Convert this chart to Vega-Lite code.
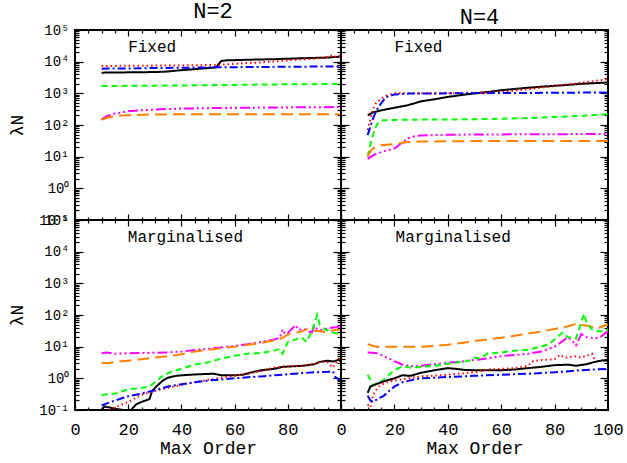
{
"$schema": "https://vega.github.io/schema/vega-lite/v6.json",
"padding": {"left": 7, "top": -2, "right": 2, "bottom": 0},
"datasets": {
"L": [
{"p":"F2","s":"k","x":10,"y":4500},{"p":"F2","s":"k","x":20,"y":4600},{"p":"F2","s":"k","x":30,"y":4700},{"p":"F2","s":"k","x":35,"y":4900},{"p":"F2","s":"k","x":40,"y":5400},{"p":"F2","s":"k","x":45,"y":5800},{"p":"F2","s":"k","x":50,"y":6300},{"p":"F2","s":"k","x":53,"y":6600},{"p":"F2","s":"k","x":55,"y":10500},{"p":"F2","s":"k","x":57,"y":11000},{"p":"F2","s":"k","x":65,"y":11500},{"p":"F2","s":"k","x":75,"y":12000},{"p":"F2","s":"k","x":85,"y":12800},{"p":"F2","s":"k","x":95,"y":13500},{"p":"F2","s":"k","x":100,"y":14500},
{"p":"F2","s":"r","x":10,"y":7300},{"p":"F2","s":"r","x":20,"y":7400},{"p":"F2","s":"r","x":30,"y":7500},{"p":"F2","s":"r","x":40,"y":7600},{"p":"F2","s":"r","x":50,"y":7800},{"p":"F2","s":"r","x":55,"y":8000},{"p":"F2","s":"r","x":60,"y":8600},{"p":"F2","s":"r","x":70,"y":9500},{"p":"F2","s":"r","x":80,"y":11000},{"p":"F2","s":"r","x":90,"y":12500},{"p":"F2","s":"r","x":95,"y":14000},{"p":"F2","s":"r","x":97,"y":16000},{"p":"F2","s":"r","x":98,"y":14000},{"p":"F2","s":"r","x":100,"y":15500},
{"p":"F2","s":"b","x":10,"y":6000},{"p":"F2","s":"b","x":20,"y":6100},{"p":"F2","s":"b","x":30,"y":6300},{"p":"F2","s":"b","x":40,"y":6400},{"p":"F2","s":"b","x":50,"y":6600},{"p":"F2","s":"b","x":60,"y":6700},{"p":"F2","s":"b","x":70,"y":6800},{"p":"F2","s":"b","x":80,"y":6900},{"p":"F2","s":"b","x":90,"y":7000},{"p":"F2","s":"b","x":100,"y":7100},
{"p":"F2","s":"g","x":10,"y":1700},{"p":"F2","s":"g","x":30,"y":1750},{"p":"F2","s":"g","x":50,"y":1800},{"p":"F2","s":"g","x":70,"y":1900},{"p":"F2","s":"g","x":90,"y":1950},{"p":"F2","s":"g","x":100,"y":2000},
{"p":"F2","s":"m","x":10,"y":150},{"p":"F2","s":"m","x":12,"y":190},{"p":"F2","s":"m","x":15,"y":230},{"p":"F2","s":"m","x":20,"y":270},{"p":"F2","s":"m","x":25,"y":290},{"p":"F2","s":"m","x":30,"y":310},{"p":"F2","s":"m","x":40,"y":330},{"p":"F2","s":"m","x":50,"y":340},{"p":"F2","s":"m","x":60,"y":350},{"p":"F2","s":"m","x":70,"y":355},{"p":"F2","s":"m","x":80,"y":360},{"p":"F2","s":"m","x":90,"y":365},{"p":"F2","s":"m","x":100,"y":370},
{"p":"F2","s":"o","x":10,"y":145},{"p":"F2","s":"o","x":12,"y":170},{"p":"F2","s":"o","x":15,"y":190},{"p":"F2","s":"o","x":20,"y":205},{"p":"F2","s":"o","x":30,"y":215},{"p":"F2","s":"o","x":50,"y":220},{"p":"F2","s":"o","x":100,"y":220},

{"p":"F4","s":"k","x":10,"y":200},{"p":"F4","s":"k","x":12,"y":250},{"p":"F4","s":"k","x":15,"y":290},{"p":"F4","s":"k","x":20,"y":350},{"p":"F4","s":"k","x":25,"y":420},{"p":"F4","s":"k","x":30,"y":560},{"p":"F4","s":"k","x":35,"y":650},{"p":"F4","s":"k","x":40,"y":770},{"p":"F4","s":"k","x":45,"y":880},{"p":"F4","s":"k","x":50,"y":1000},{"p":"F4","s":"k","x":55,"y":1100},{"p":"F4","s":"k","x":60,"y":1250},{"p":"F4","s":"k","x":65,"y":1380},{"p":"F4","s":"k","x":70,"y":1500},{"p":"F4","s":"k","x":75,"y":1620},{"p":"F4","s":"k","x":80,"y":1730},{"p":"F4","s":"k","x":85,"y":1850},{"p":"F4","s":"k","x":90,"y":2000},{"p":"F4","s":"k","x":95,"y":2100},{"p":"F4","s":"k","x":100,"y":2200},
{"p":"F4","s":"r","x":10,"y":70},{"p":"F4","s":"r","x":11,"y":150},{"p":"F4","s":"r","x":12,"y":320},{"p":"F4","s":"r","x":13,"y":480},{"p":"F4","s":"r","x":15,"y":680},{"p":"F4","s":"r","x":17,"y":850},{"p":"F4","s":"r","x":20,"y":1000},{"p":"F4","s":"r","x":30,"y":1000},{"p":"F4","s":"r","x":40,"y":1000},{"p":"F4","s":"r","x":50,"y":1050},{"p":"F4","s":"r","x":60,"y":1100},{"p":"F4","s":"r","x":70,"y":1350},{"p":"F4","s":"r","x":80,"y":1700},{"p":"F4","s":"r","x":90,"y":2150},{"p":"F4","s":"r","x":100,"y":2800},
{"p":"F4","s":"b","x":10,"y":48},{"p":"F4","s":"b","x":11,"y":90},{"p":"F4","s":"b","x":12,"y":160},{"p":"F4","s":"b","x":13,"y":260},{"p":"F4","s":"b","x":15,"y":480},{"p":"F4","s":"b","x":17,"y":770},{"p":"F4","s":"b","x":20,"y":920},{"p":"F4","s":"b","x":25,"y":980},{"p":"F4","s":"b","x":40,"y":1000},{"p":"F4","s":"b","x":60,"y":1020},{"p":"F4","s":"b","x":80,"y":1040},{"p":"F4","s":"b","x":100,"y":1070},
{"p":"F4","s":"g","x":10,"y":10},{"p":"F4","s":"g","x":11,"y":25},{"p":"F4","s":"g","x":12,"y":50},{"p":"F4","s":"g","x":13,"y":87},{"p":"F4","s":"g","x":14,"y":120},{"p":"F4","s":"g","x":15,"y":140},{"p":"F4","s":"g","x":20,"y":145},{"p":"F4","s":"g","x":30,"y":148},{"p":"F4","s":"g","x":50,"y":152},{"p":"F4","s":"g","x":70,"y":165},{"p":"F4","s":"g","x":90,"y":195},{"p":"F4","s":"g","x":100,"y":220},
{"p":"F4","s":"m","x":10,"y":8.5},{"p":"F4","s":"m","x":12,"y":11},{"p":"F4","s":"m","x":15,"y":14},{"p":"F4","s":"m","x":20,"y":18},{"p":"F4","s":"m","x":23,"y":28},{"p":"F4","s":"m","x":25,"y":38},{"p":"F4","s":"m","x":28,"y":45},{"p":"F4","s":"m","x":30,"y":47},{"p":"F4","s":"m","x":40,"y":49},{"p":"F4","s":"m","x":50,"y":50},{"p":"F4","s":"m","x":70,"y":51},{"p":"F4","s":"m","x":100,"y":52},
{"p":"F4","s":"o","x":10,"y":10},{"p":"F4","s":"o","x":11,"y":15},{"p":"F4","s":"o","x":12,"y":18},{"p":"F4","s":"o","x":15,"y":23},{"p":"F4","s":"o","x":20,"y":25},{"p":"F4","s":"o","x":25,"y":29},{"p":"F4","s":"o","x":30,"y":30},{"p":"F4","s":"o","x":50,"y":31},{"p":"F4","s":"o","x":100,"y":31},

{"p":"M2","s":"m","x":10,"y":6.2},{"p":"M2","s":"m","x":12,"y":6.5},{"p":"M2","s":"m","x":15,"y":6.0},{"p":"M2","s":"m","x":20,"y":6.2},{"p":"M2","s":"m","x":25,"y":6.3},{"p":"M2","s":"m","x":30,"y":6.4},{"p":"M2","s":"m","x":35,"y":6.6},{"p":"M2","s":"m","x":40,"y":7},{"p":"M2","s":"m","x":45,"y":7.8},{"p":"M2","s":"m","x":50,"y":8.5},{"p":"M2","s":"m","x":55,"y":9.5},{"p":"M2","s":"m","x":60,"y":10.5},{"p":"M2","s":"m","x":65,"y":12},{"p":"M2","s":"m","x":70,"y":14},{"p":"M2","s":"m","x":75,"y":17},{"p":"M2","s":"m","x":77,"y":19},{"p":"M2","s":"m","x":78,"y":35},{"p":"M2","s":"m","x":79,"y":25},{"p":"M2","s":"m","x":80,"y":27},{"p":"M2","s":"m","x":82,"y":40},{"p":"M2","s":"m","x":83,"y":48},{"p":"M2","s":"m","x":84,"y":34},{"p":"M2","s":"m","x":86,"y":37},{"p":"M2","s":"m","x":88,"y":30},{"p":"M2","s":"m","x":89,"y":28},{"p":"M2","s":"m","x":90,"y":45},{"p":"M2","s":"m","x":91,"y":36},{"p":"M2","s":"m","x":93,"y":33},{"p":"M2","s":"m","x":95,"y":38},{"p":"M2","s":"m","x":97,"y":40},{"p":"M2","s":"m","x":99,"y":42},{"p":"M2","s":"m","x":100,"y":55},
{"p":"M2","s":"o","x":10,"y":3.1},{"p":"M2","s":"o","x":12,"y":3.0},{"p":"M2","s":"o","x":15,"y":3.3},{"p":"M2","s":"o","x":20,"y":3.6},{"p":"M2","s":"o","x":25,"y":4},{"p":"M2","s":"o","x":30,"y":4.5},{"p":"M2","s":"o","x":35,"y":5},{"p":"M2","s":"o","x":40,"y":5.8},{"p":"M2","s":"o","x":45,"y":7},{"p":"M2","s":"o","x":50,"y":8},{"p":"M2","s":"o","x":55,"y":9},{"p":"M2","s":"o","x":60,"y":10},{"p":"M2","s":"o","x":65,"y":11.5},{"p":"M2","s":"o","x":70,"y":13},{"p":"M2","s":"o","x":75,"y":16},{"p":"M2","s":"o","x":78,"y":19},{"p":"M2","s":"o","x":80,"y":24},{"p":"M2","s":"o","x":85,"y":30},{"p":"M2","s":"o","x":88,"y":38},{"p":"M2","s":"o","x":90,"y":32},{"p":"M2","s":"o","x":93,"y":30},{"p":"M2","s":"o","x":95,"y":28},{"p":"M2","s":"o","x":97,"y":33},{"p":"M2","s":"o","x":100,"y":35},
{"p":"M2","s":"g","x":10,"y":0.3},{"p":"M2","s":"g","x":15,"y":0.33},{"p":"M2","s":"g","x":20,"y":0.45},{"p":"M2","s":"g","x":25,"y":0.5},{"p":"M2","s":"g","x":28,"y":0.55},{"p":"M2","s":"g","x":30,"y":0.75},{"p":"M2","s":"g","x":33,"y":1.2},{"p":"M2","s":"g","x":36,"y":1.6},{"p":"M2","s":"g","x":40,"y":2.0},{"p":"M2","s":"g","x":45,"y":2.7},{"p":"M2","s":"g","x":50,"y":3.2},{"p":"M2","s":"g","x":55,"y":4.2},{"p":"M2","s":"g","x":60,"y":5.2},{"p":"M2","s":"g","x":65,"y":6},{"p":"M2","s":"g","x":70,"y":6.3},{"p":"M2","s":"g","x":75,"y":7.5},{"p":"M2","s":"g","x":77,"y":8.5},{"p":"M2","s":"g","x":78,"y":6},{"p":"M2","s":"g","x":80,"y":14},{"p":"M2","s":"g","x":83,"y":17},{"p":"M2","s":"g","x":85,"y":20},{"p":"M2","s":"g","x":87,"y":14},{"p":"M2","s":"g","x":89,"y":30},{"p":"M2","s":"g","x":91,"y":100},{"p":"M2","s":"g","x":92,"y":50},{"p":"M2","s":"g","x":94,"y":35},{"p":"M2","s":"g","x":97,"y":28},{"p":"M2","s":"g","x":100,"y":25},
{"p":"M2","s":"k","x":10,"y":0.1},{"p":"M2","s":"k","x":11,"y":0.13},{"p":"M2","s":"k","x":13,"y":0.12},{"p":"M2","s":"k","x":15,"y":0.11},{"p":"M2","s":"k","x":18,"y":0.1},{"p":"M2","s":"k","x":21,"y":0.1},{"p":"M2","s":"k","x":23,"y":0.15},{"p":"M2","s":"k","x":25,"y":0.18},{"p":"M2","s":"k","x":28,"y":0.22},{"p":"M2","s":"k","x":29,"y":0.4},{"p":"M2","s":"k","x":31,"y":0.6},{"p":"M2","s":"k","x":33,"y":0.85},{"p":"M2","s":"k","x":35,"y":1.05},{"p":"M2","s":"k","x":38,"y":1.2},{"p":"M2","s":"k","x":42,"y":1.28},{"p":"M2","s":"k","x":47,"y":1.35},{"p":"M2","s":"k","x":52,"y":1.4},{"p":"M2","s":"k","x":55,"y":1.25},{"p":"M2","s":"k","x":60,"y":1.25},{"p":"M2","s":"k","x":63,"y":1.3},{"p":"M2","s":"k","x":67,"y":1.6},{"p":"M2","s":"k","x":70,"y":1.8},{"p":"M2","s":"k","x":75,"y":2.0},{"p":"M2","s":"k","x":78,"y":2.3},{"p":"M2","s":"k","x":82,"y":2.4},{"p":"M2","s":"k","x":86,"y":2.5},{"p":"M2","s":"k","x":90,"y":2.8},{"p":"M2","s":"k","x":92,"y":3.3},{"p":"M2","s":"k","x":95,"y":3.6},{"p":"M2","s":"k","x":97,"y":3.4},{"p":"M2","s":"k","x":99,"y":3.8},{"p":"M2","s":"k","x":100,"y":3.4},
{"p":"M2","s":"r","x":10,"y":0.07},{"p":"M2","s":"r","x":12,"y":0.09},{"p":"M2","s":"r","x":15,"y":0.12},{"p":"M2","s":"r","x":20,"y":0.18},{"p":"M2","s":"r","x":25,"y":0.3},{"p":"M2","s":"r","x":30,"y":0.4},{"p":"M2","s":"r","x":35,"y":0.5},{"p":"M2","s":"r","x":40,"y":0.62},{"p":"M2","s":"r","x":45,"y":0.75},{"p":"M2","s":"r","x":50,"y":0.9},{"p":"M2","s":"r","x":55,"y":1.05},{"p":"M2","s":"r","x":60,"y":1.2},{"p":"M2","s":"r","x":65,"y":1.4},{"p":"M2","s":"r","x":70,"y":1.7},{"p":"M2","s":"r","x":75,"y":2.2},{"p":"M2","s":"r","x":80,"y":2.4},{"p":"M2","s":"r","x":85,"y":2.5},{"p":"M2","s":"r","x":90,"y":2.8},{"p":"M2","s":"r","x":93,"y":3.5},{"p":"M2","s":"r","x":95,"y":3.2},{"p":"M2","s":"r","x":97,"y":2.2},{"p":"M2","s":"r","x":99,"y":4},{"p":"M2","s":"r","x":100,"y":6},
{"p":"M2","s":"b","x":10,"y":0.14},{"p":"M2","s":"b","x":15,"y":0.2},{"p":"M2","s":"b","x":20,"y":0.27},{"p":"M2","s":"b","x":25,"y":0.33},{"p":"M2","s":"b","x":30,"y":0.42},{"p":"M2","s":"b","x":35,"y":0.55},{"p":"M2","s":"b","x":40,"y":0.65},{"p":"M2","s":"b","x":45,"y":0.75},{"p":"M2","s":"b","x":50,"y":0.85},{"p":"M2","s":"b","x":55,"y":0.92},{"p":"M2","s":"b","x":60,"y":1.0},{"p":"M2","s":"b","x":65,"y":1.08},{"p":"M2","s":"b","x":70,"y":1.15},{"p":"M2","s":"b","x":75,"y":1.25},{"p":"M2","s":"b","x":80,"y":1.35},{"p":"M2","s":"b","x":85,"y":1.45},{"p":"M2","s":"b","x":90,"y":1.55},{"p":"M2","s":"b","x":95,"y":1.6},{"p":"M2","s":"b","x":97,"y":1.65},{"p":"M2","s":"b","x":98,"y":1.05},{"p":"M2","s":"b","x":100,"y":0.9},

{"p":"M4","s":"o","x":10,"y":12},{"p":"M4","s":"o","x":12,"y":10.5},{"p":"M4","s":"o","x":14,"y":9.8},{"p":"M4","s":"o","x":20,"y":10},{"p":"M4","s":"o","x":25,"y":10},{"p":"M4","s":"o","x":30,"y":10},{"p":"M4","s":"o","x":35,"y":10.5},{"p":"M4","s":"o","x":40,"y":11.5},{"p":"M4","s":"o","x":45,"y":13},{"p":"M4","s":"o","x":50,"y":15},{"p":"M4","s":"o","x":55,"y":17},{"p":"M4","s":"o","x":60,"y":19},{"p":"M4","s":"o","x":65,"y":22},{"p":"M4","s":"o","x":70,"y":26},{"p":"M4","s":"o","x":75,"y":30},{"p":"M4","s":"o","x":80,"y":36},{"p":"M4","s":"o","x":85,"y":44},{"p":"M4","s":"o","x":88,"y":52},{"p":"M4","s":"o","x":90,"y":48},{"p":"M4","s":"o","x":93,"y":45},{"p":"M4","s":"o","x":96,"y":38},{"p":"M4","s":"o","x":100,"y":50},
{"p":"M4","s":"m","x":10,"y":6.5},{"p":"M4","s":"m","x":13,"y":6.3},{"p":"M4","s":"m","x":15,"y":5.5},{"p":"M4","s":"m","x":18,"y":4.2},{"p":"M4","s":"m","x":20,"y":3.5},{"p":"M4","s":"m","x":23,"y":2.7},{"p":"M4","s":"m","x":26,"y":2.4},{"p":"M4","s":"m","x":30,"y":2.5},{"p":"M4","s":"m","x":35,"y":2.8},{"p":"M4","s":"m","x":40,"y":3.1},{"p":"M4","s":"m","x":45,"y":3.4},{"p":"M4","s":"m","x":50,"y":3.8},{"p":"M4","s":"m","x":55,"y":4.3},{"p":"M4","s":"m","x":60,"y":5},{"p":"M4","s":"m","x":65,"y":5.5},{"p":"M4","s":"m","x":70,"y":6},{"p":"M4","s":"m","x":75,"y":7},{"p":"M4","s":"m","x":80,"y":10},{"p":"M4","s":"m","x":83,"y":15},{"p":"M4","s":"m","x":85,"y":20},{"p":"M4","s":"m","x":87,"y":14},{"p":"M4","s":"m","x":88,"y":11},{"p":"M4","s":"m","x":90,"y":25},{"p":"M4","s":"m","x":92,"y":20},{"p":"M4","s":"m","x":95,"y":18},{"p":"M4","s":"m","x":97,"y":20},{"p":"M4","s":"m","x":100,"y":30},
{"p":"M4","s":"g","x":10,"y":1.3},{"p":"M4","s":"g","x":11,"y":0.9},{"p":"M4","s":"g","x":12,"y":0.6},{"p":"M4","s":"g","x":14,"y":0.7},{"p":"M4","s":"g","x":16,"y":0.9},{"p":"M4","s":"g","x":18,"y":1.3},{"p":"M4","s":"g","x":20,"y":1.8},{"p":"M4","s":"g","x":23,"y":2.4},{"p":"M4","s":"g","x":26,"y":2.2},{"p":"M4","s":"g","x":30,"y":2.3},{"p":"M4","s":"g","x":35,"y":2.5},{"p":"M4","s":"g","x":40,"y":2.9},{"p":"M4","s":"g","x":45,"y":3.3},{"p":"M4","s":"g","x":48,"y":3.6},{"p":"M4","s":"g","x":50,"y":4.5},{"p":"M4","s":"g","x":52,"y":4.2},{"p":"M4","s":"g","x":55,"y":6.2},{"p":"M4","s":"g","x":60,"y":6.5},{"p":"M4","s":"g","x":65,"y":7.5},{"p":"M4","s":"g","x":70,"y":8},{"p":"M4","s":"g","x":75,"y":10},{"p":"M4","s":"g","x":78,"y":12},{"p":"M4","s":"g","x":80,"y":17},{"p":"M4","s":"g","x":83,"y":28},{"p":"M4","s":"g","x":85,"y":20},{"p":"M4","s":"g","x":88,"y":18},{"p":"M4","s":"g","x":90,"y":60},{"p":"M4","s":"g","x":91,"y":110},{"p":"M4","s":"g","x":92,"y":55},{"p":"M4","s":"g","x":94,"y":35},{"p":"M4","s":"g","x":97,"y":30},{"p":"M4","s":"g","x":100,"y":35},
{"p":"M4","s":"k","x":10,"y":0.35},{"p":"M4","s":"k","x":11,"y":0.55},{"p":"M4","s":"k","x":13,"y":0.65},{"p":"M4","s":"k","x":16,"y":0.8},{"p":"M4","s":"k","x":20,"y":1.0},{"p":"M4","s":"k","x":23,"y":1.25},{"p":"M4","s":"k","x":26,"y":1.2},{"p":"M4","s":"k","x":30,"y":1.5},{"p":"M4","s":"k","x":35,"y":1.8},{"p":"M4","s":"k","x":40,"y":2.1},{"p":"M4","s":"k","x":43,"y":2.0},{"p":"M4","s":"k","x":46,"y":1.85},{"p":"M4","s":"k","x":50,"y":1.8},{"p":"M4","s":"k","x":55,"y":1.8},{"p":"M4","s":"k","x":60,"y":1.8},{"p":"M4","s":"k","x":65,"y":1.9},{"p":"M4","s":"k","x":70,"y":2.1},{"p":"M4","s":"k","x":75,"y":2.3},{"p":"M4","s":"k","x":80,"y":2.6},{"p":"M4","s":"k","x":85,"y":2.7},{"p":"M4","s":"k","x":88,"y":2.5},{"p":"M4","s":"k","x":92,"y":2.8},{"p":"M4","s":"k","x":95,"y":3.3},{"p":"M4","s":"k","x":98,"y":3.7},{"p":"M4","s":"k","x":100,"y":3.6},
{"p":"M4","s":"r","x":10,"y":0.15},{"p":"M4","s":"r","x":11,"y":0.12},{"p":"M4","s":"r","x":12,"y":0.3},{"p":"M4","s":"r","x":14,"y":0.55},{"p":"M4","s":"r","x":17,"y":0.75},{"p":"M4","s":"r","x":20,"y":0.85},{"p":"M4","s":"r","x":25,"y":1.0},{"p":"M4","s":"r","x":30,"y":1.15},{"p":"M4","s":"r","x":40,"y":1.3},{"p":"M4","s":"r","x":50,"y":1.55},{"p":"M4","s":"r","x":55,"y":1.9},{"p":"M4","s":"r","x":60,"y":2.0},{"p":"M4","s":"r","x":65,"y":2.1},{"p":"M4","s":"r","x":70,"y":2.5},{"p":"M4","s":"r","x":72,"y":3.5},{"p":"M4","s":"r","x":75,"y":3.8},{"p":"M4","s":"r","x":80,"y":4},{"p":"M4","s":"r","x":82,"y":5.5},{"p":"M4","s":"r","x":84,"y":4.5},{"p":"M4","s":"r","x":88,"y":5},{"p":"M4","s":"r","x":90,"y":4.5},{"p":"M4","s":"r","x":94,"y":6},{"p":"M4","s":"r","x":95,"y":4},
{"p":"M4","s":"b","x":10,"y":0.28},{"p":"M4","s":"b","x":11,"y":0.2},{"p":"M4","s":"b","x":12,"y":0.18},{"p":"M4","s":"b","x":14,"y":0.23},{"p":"M4","s":"b","x":16,"y":0.28},{"p":"M4","s":"b","x":18,"y":0.4},{"p":"M4","s":"b","x":20,"y":0.55},{"p":"M4","s":"b","x":23,"y":0.75},{"p":"M4","s":"b","x":27,"y":0.9},{"p":"M4","s":"b","x":30,"y":1.0},{"p":"M4","s":"b","x":40,"y":1.1},{"p":"M4","s":"b","x":50,"y":1.2},{"p":"M4","s":"b","x":60,"y":1.3},{"p":"M4","s":"b","x":70,"y":1.4},{"p":"M4","s":"b","x":80,"y":1.55},{"p":"M4","s":"b","x":90,"y":1.8},{"p":"M4","s":"b","x":100,"y":2.0}
],
"T": [
{"p":"F2","t":"Fixed","x":29,"y":30000},
{"p":"F4","t":"Fixed","x":29,"y":30000},
{"p":"M2","t":"Marginalised","x":41.5,"y":30000},
{"p":"M4","t":"Marginalised","x":42,"y":30000}
]
},
"columns": 2,
"spacing": 0,
"bounds": "flush",
"concat": [
{"width": 266, "height": 190,
 "title": {"text": "N=2", "font": "Liberation Mono", "fontSize": 22, "fontWeight": "normal", "color": "black", "offset": 0.5, "dx": 5},
 "layer": [
  {"data": {"name": "L"}, "transform": [{"filter": "datum.p==='F2'"}],
   "mark": {"type": "line", "strokeWidth": 2, "clip": true},
   "encoding": {
    "x": {"field": "x", "type": "quantitative", "scale": {"domain": [0, 100], "nice": false, "zero": false}, "axis": null},
    "y": {"field": "y", "type": "quantitative", "scale": {"type": "log", "domain": [0.1, 100000], "nice": false}, "axis": {"orient": "left", "values": [0.1, 1, 10, 100, 1000, 10000, 100000], "ticks": false, "labelPadding": 6, "labelFontSize": 14, "labelExpr": "datum.value < 0.5 ? '10⁻¹' : datum.value < 5 ? '10⁰' : datum.value < 50 ? '10¹' : datum.value < 500 ? '10²' : datum.value < 5000 ? '10³' : datum.value < 50000 ? '10⁴' : '10⁵'", "title": "λN", "titleFontSize": 18, "titlePadding": 12}},
    "color": {"field": "s", "type": "nominal", "scale": {"domain": ["k","r","b","g","m","o"], "range": ["#000000","#ff0000","#0000ff","#00ff00","#ff00ff","#ff8000"]}, "legend": null},
    "strokeDash": {"field": "s", "type": "nominal", "scale": {"domain": ["k","r","b","g","m","o"], "range": [[1,0],[1.5,3],[8,3,2,3],[6,4],[10,3,2,3,2,3,2,3],[12,6]]}, "legend": null}
   }},
  {"data": {"name": "T"}, "transform": [{"filter": "datum.p==='F2'"}],
   "mark": {"type": "text", "font": "Liberation Mono", "fontSize": 16, "color": "black", "align": "center", "baseline": "middle"},
   "encoding": {"x": {"field": "x", "type": "quantitative", "axis": null}, "y": {"field": "y", "type": "quantitative", "axis": null}, "text": {"field": "t"}}},
  {"data": {"name": "T"}, "transform": [{"filter": "datum.p==='F2'"}], "mark": {"type": "point", "opacity": 0},
   "encoding": {"x": {"field": "x", "type": "quantitative", "axis": {"orient": "bottom", "values": [0,20,40,60,80,100], "labels": false, "tickSize": -6, "title": null}},
                "y": {"field": "y", "type": "quantitative", "axis": {"orient": "left", "values": [0.1,1,10,100,1000,10000,100000], "labels": false, "tickSize": -8, "title": null}}}},
  {"data": {"name": "T"}, "transform": [{"filter": "datum.p==='F2'"}], "mark": {"type": "point", "opacity": 0},
   "encoding": {"x": {"field": "x", "type": "quantitative", "axis": {"orient": "bottom", "values": [5,10,15,25,30,35,45,50,55,65,70,75,85,90,95], "labels": false, "tickSize": -3, "title": null}},
                "y": {"field": "y", "type": "quantitative", "axis": {"orient": "left", "values": [0.2,0.3,0.4,0.5,0.6,0.7,0.8,0.9,2,3,4,5,6,7,8,9,20,30,40,50,60,70,80,90,200,300,400,500,600,700,800,900,2000,3000,4000,5000,6000,7000,8000,9000,20000,30000,40000,50000,60000,70000,80000,90000], "labels": false, "tickSize": -4, "title": null}}}},
  {"data": {"name": "T"}, "transform": [{"filter": "datum.p==='F2'"}], "mark": {"type": "point", "opacity": 0},
   "encoding": {"x": {"field": "x", "type": "quantitative", "axis": {"orient": "top", "values": [0,20,40,60,80,100], "labels": false, "tickSize": -6, "title": null}},
                "y": {"field": "y", "type": "quantitative", "axis": {"orient": "right", "values": [0.1,1,10,100,1000,10000,100000], "labels": false, "tickSize": -8, "title": null}}}},
  {"data": {"name": "T"}, "transform": [{"filter": "datum.p==='F2'"}], "mark": {"type": "point", "opacity": 0},
   "encoding": {"x": {"field": "x", "type": "quantitative", "axis": {"orient": "top", "values": [5,10,15,25,30,35,45,50,55,65,70,75,85,90,95], "labels": false, "tickSize": -3, "title": null}},
                "y": {"field": "y", "type": "quantitative", "axis": {"orient": "right", "values": [0.2,0.3,0.4,0.5,0.6,0.7,0.8,0.9,2,3,4,5,6,7,8,9,20,30,40,50,60,70,80,90,200,300,400,500,600,700,800,900,2000,3000,4000,5000,6000,7000,8000,9000,20000,30000,40000,50000,60000,70000,80000,90000], "labels": false, "tickSize": -4, "title": null}}}}
 ],
 "resolve": {"axis": {"x": "independent", "y": "independent"}}
},
{"width": 267, "height": 190,
 "title": {"text": "N=4", "font": "Liberation Mono", "fontSize": 22, "fontWeight": "normal", "color": "black", "offset": 0.5, "dx": 5},
 "layer": [
  {"data": {"name": "L"}, "transform": [{"filter": "datum.p==='F4'"}],
   "mark": {"type": "line", "strokeWidth": 2, "clip": true},
   "encoding": {
    "x": {"field": "x", "type": "quantitative", "scale": {"domain": [0, 100], "nice": false, "zero": false}, "axis": null},
    "y": {"field": "y", "type": "quantitative", "scale": {"type": "log", "domain": [0.1, 100000], "nice": false}, "axis": null},
    "color": {"field": "s", "type": "nominal", "scale": {"domain": ["k","r","b","g","m","o"], "range": ["#000000","#ff0000","#0000ff","#00ff00","#ff00ff","#ff8000"]}, "legend": null},
    "strokeDash": {"field": "s", "type": "nominal", "scale": {"domain": ["k","r","b","g","m","o"], "range": [[1,0],[1.5,3],[8,3,2,3],[6,4],[10,3,2,3,2,3,2,3],[12,6]]}, "legend": null}
   }},
  {"data": {"name": "T"}, "transform": [{"filter": "datum.p==='F4'"}],
   "mark": {"type": "text", "font": "Liberation Mono", "fontSize": 16, "color": "black", "align": "center", "baseline": "middle"},
   "encoding": {"x": {"field": "x", "type": "quantitative", "axis": null}, "y": {"field": "y", "type": "quantitative", "axis": null}, "text": {"field": "t"}}},
  {"data": {"name": "T"}, "transform": [{"filter": "datum.p==='F4'"}], "mark": {"type": "point", "opacity": 0},
   "encoding": {"x": {"field": "x", "type": "quantitative", "axis": {"orient": "bottom", "values": [0,20,40,60,80,100], "labels": false, "tickSize": -6, "title": null}},
                "y": {"field": "y", "type": "quantitative", "axis": {"orient": "left", "values": [0.1,1,10,100,1000,10000,100000], "labels": false, "tickSize": -8, "title": null}}}},
  {"data": {"name": "T"}, "transform": [{"filter": "datum.p==='F4'"}], "mark": {"type": "point", "opacity": 0},
   "encoding": {"x": {"field": "x", "type": "quantitative", "axis": {"orient": "bottom", "values": [5,10,15,25,30,35,45,50,55,65,70,75,85,90,95], "labels": false, "tickSize": -3, "title": null}},
                "y": {"field": "y", "type": "quantitative", "axis": {"orient": "left", "values": [0.2,0.3,0.4,0.5,0.6,0.7,0.8,0.9,2,3,4,5,6,7,8,9,20,30,40,50,60,70,80,90,200,300,400,500,600,700,800,900,2000,3000,4000,5000,6000,7000,8000,9000,20000,30000,40000,50000,60000,70000,80000,90000], "labels": false, "tickSize": -4, "title": null}}}},
  {"data": {"name": "T"}, "transform": [{"filter": "datum.p==='F4'"}], "mark": {"type": "point", "opacity": 0},
   "encoding": {"x": {"field": "x", "type": "quantitative", "axis": {"orient": "top", "values": [0,20,40,60,80,100], "labels": false, "tickSize": -6, "title": null}},
                "y": {"field": "y", "type": "quantitative", "axis": {"orient": "right", "values": [0.1,1,10,100,1000,10000,100000], "labels": false, "tickSize": -8, "title": null}}}},
  {"data": {"name": "T"}, "transform": [{"filter": "datum.p==='F4'"}], "mark": {"type": "point", "opacity": 0},
   "encoding": {"x": {"field": "x", "type": "quantitative", "axis": {"orient": "top", "values": [5,10,15,25,30,35,45,50,55,65,70,75,85,90,95], "labels": false, "tickSize": -3, "title": null}},
                "y": {"field": "y", "type": "quantitative", "axis": {"orient": "right", "values": [0.2,0.3,0.4,0.5,0.6,0.7,0.8,0.9,2,3,4,5,6,7,8,9,20,30,40,50,60,70,80,90,200,300,400,500,600,700,800,900,2000,3000,4000,5000,6000,7000,8000,9000,20000,30000,40000,50000,60000,70000,80000,90000], "labels": false, "tickSize": -4, "title": null}}}}
 ],
 "resolve": {"axis": {"x": "independent", "y": "independent"}}
},
{"width": 266, "height": 190,
 "layer": [
  {"data": {"name": "L"}, "transform": [{"filter": "datum.p==='M2'"}],
   "mark": {"type": "line", "strokeWidth": 2, "clip": true},
   "encoding": {
    "x": {"field": "x", "type": "quantitative", "scale": {"domain": [0, 100], "nice": false, "zero": false}, "axis": {"orient": "bottom", "values": [0,20,40,60,80,100], "ticks": false, "labelPadding": 11, "labelFontSize": 17, "labelExpr": "datum.value == 100 ? '' : datum.label", "title": "Max Order", "titleFontSize": 18, "titlePadding": 2}},
    "y": {"field": "y", "type": "quantitative", "scale": {"type": "log", "domain": [0.1, 100000], "nice": false}, "axis": {"orient": "left", "values": [0.1, 1, 10, 100, 1000, 10000, 100000], "ticks": false, "labelPadding": 6, "labelFontSize": 14, "labelExpr": "datum.value < 0.5 ? '10⁻¹' : datum.value < 5 ? '10⁰' : datum.value < 50 ? '10¹' : datum.value < 500 ? '10²' : datum.value < 5000 ? '10³' : datum.value < 50000 ? '10⁴' : '10⁵'", "title": "λN", "titleFontSize": 18, "titlePadding": 12}},
    "color": {"field": "s", "type": "nominal", "scale": {"domain": ["k","r","b","g","m","o"], "range": ["#000000","#ff0000","#0000ff","#00ff00","#ff00ff","#ff8000"]}, "legend": null},
    "strokeDash": {"field": "s", "type": "nominal", "scale": {"domain": ["k","r","b","g","m","o"], "range": [[1,0],[1.5,3],[8,3,2,3],[6,4],[10,3,2,3,2,3,2,3],[12,6]]}, "legend": null}
   }},
  {"data": {"name": "T"}, "transform": [{"filter": "datum.p==='M2'"}],
   "mark": {"type": "text", "font": "Liberation Mono", "fontSize": 16, "color": "black", "align": "center", "baseline": "middle"},
   "encoding": {"x": {"field": "x", "type": "quantitative", "axis": null}, "y": {"field": "y", "type": "quantitative", "axis": null}, "text": {"field": "t"}}},
  {"data": {"name": "T"}, "transform": [{"filter": "datum.p==='M2'"}], "mark": {"type": "point", "opacity": 0},
   "encoding": {"x": {"field": "x", "type": "quantitative", "axis": {"orient": "bottom", "values": [0,20,40,60,80,100], "labels": false, "tickSize": -6, "title": null}},
                "y": {"field": "y", "type": "quantitative", "axis": {"orient": "left", "values": [0.1,1,10,100,1000,10000,100000], "labels": false, "tickSize": -8, "title": null}}}},
  {"data": {"name": "T"}, "transform": [{"filter": "datum.p==='M2'"}], "mark": {"type": "point", "opacity": 0},
   "encoding": {"x": {"field": "x", "type": "quantitative", "axis": {"orient": "bottom", "values": [5,10,15,25,30,35,45,50,55,65,70,75,85,90,95], "labels": false, "tickSize": -3, "title": null}},
                "y": {"field": "y", "type": "quantitative", "axis": {"orient": "left", "values": [0.2,0.3,0.4,0.5,0.6,0.7,0.8,0.9,2,3,4,5,6,7,8,9,20,30,40,50,60,70,80,90,200,300,400,500,600,700,800,900,2000,3000,4000,5000,6000,7000,8000,9000,20000,30000,40000,50000,60000,70000,80000,90000], "labels": false, "tickSize": -4, "title": null}}}},
  {"data": {"name": "T"}, "transform": [{"filter": "datum.p==='M2'"}], "mark": {"type": "point", "opacity": 0},
   "encoding": {"x": {"field": "x", "type": "quantitative", "axis": {"orient": "top", "values": [0,20,40,60,80,100], "labels": false, "tickSize": -6, "title": null}},
                "y": {"field": "y", "type": "quantitative", "axis": {"orient": "right", "values": [0.1,1,10,100,1000,10000,100000], "labels": false, "tickSize": -8, "title": null}}}},
  {"data": {"name": "T"}, "transform": [{"filter": "datum.p==='M2'"}], "mark": {"type": "point", "opacity": 0},
   "encoding": {"x": {"field": "x", "type": "quantitative", "axis": {"orient": "top", "values": [5,10,15,25,30,35,45,50,55,65,70,75,85,90,95], "labels": false, "tickSize": -3, "title": null}},
                "y": {"field": "y", "type": "quantitative", "axis": {"orient": "right", "values": [0.2,0.3,0.4,0.5,0.6,0.7,0.8,0.9,2,3,4,5,6,7,8,9,20,30,40,50,60,70,80,90,200,300,400,500,600,700,800,900,2000,3000,4000,5000,6000,7000,8000,9000,20000,30000,40000,50000,60000,70000,80000,90000], "labels": false, "tickSize": -4, "title": null}}}}
 ],
 "resolve": {"axis": {"x": "independent", "y": "independent"}}
},
{"width": 267, "height": 190,
 "layer": [
  {"data": {"name": "L"}, "transform": [{"filter": "datum.p==='M4'"}],
   "mark": {"type": "line", "strokeWidth": 2, "clip": true},
   "encoding": {
    "x": {"field": "x", "type": "quantitative", "scale": {"domain": [0, 100], "nice": false, "zero": false}, "axis": {"orient": "bottom", "values": [0,20,40,60,80,100], "ticks": false, "labelPadding": 11, "labelFontSize": 17, "title": "Max Order", "titleFontSize": 18, "titlePadding": 2}},
    "y": {"field": "y", "type": "quantitative", "scale": {"type": "log", "domain": [0.1, 100000], "nice": false}, "axis": null},
    "color": {"field": "s", "type": "nominal", "scale": {"domain": ["k","r","b","g","m","o"], "range": ["#000000","#ff0000","#0000ff","#00ff00","#ff00ff","#ff8000"]}, "legend": null},
    "strokeDash": {"field": "s", "type": "nominal", "scale": {"domain": ["k","r","b","g","m","o"], "range": [[1,0],[1.5,3],[8,3,2,3],[6,4],[10,3,2,3,2,3,2,3],[12,6]]}, "legend": null}
   }},
  {"data": {"name": "T"}, "transform": [{"filter": "datum.p==='M4'"}],
   "mark": {"type": "text", "font": "Liberation Mono", "fontSize": 16, "color": "black", "align": "center", "baseline": "middle"},
   "encoding": {"x": {"field": "x", "type": "quantitative", "axis": null}, "y": {"field": "y", "type": "quantitative", "axis": null}, "text": {"field": "t"}}},
  {"data": {"name": "T"}, "transform": [{"filter": "datum.p==='M4'"}], "mark": {"type": "point", "opacity": 0},
   "encoding": {"x": {"field": "x", "type": "quantitative", "axis": {"orient": "bottom", "values": [0,20,40,60,80,100], "labels": false, "tickSize": -6, "title": null}},
                "y": {"field": "y", "type": "quantitative", "axis": {"orient": "left", "values": [0.1,1,10,100,1000,10000,100000], "labels": false, "tickSize": -8, "title": null}}}},
  {"data": {"name": "T"}, "transform": [{"filter": "datum.p==='M4'"}], "mark": {"type": "point", "opacity": 0},
   "encoding": {"x": {"field": "x", "type": "quantitative", "axis": {"orient": "bottom", "values": [5,10,15,25,30,35,45,50,55,65,70,75,85,90,95], "labels": false, "tickSize": -3, "title": null}},
                "y": {"field": "y", "type": "quantitative", "axis": {"orient": "left", "values": [0.2,0.3,0.4,0.5,0.6,0.7,0.8,0.9,2,3,4,5,6,7,8,9,20,30,40,50,60,70,80,90,200,300,400,500,600,700,800,900,2000,3000,4000,5000,6000,7000,8000,9000,20000,30000,40000,50000,60000,70000,80000,90000], "labels": false, "tickSize": -4, "title": null}}}},
  {"data": {"name": "T"}, "transform": [{"filter": "datum.p==='M4'"}], "mark": {"type": "point", "opacity": 0},
   "encoding": {"x": {"field": "x", "type": "quantitative", "axis": {"orient": "top", "values": [0,20,40,60,80,100], "labels": false, "tickSize": -6, "title": null}},
                "y": {"field": "y", "type": "quantitative", "axis": {"orient": "right", "values": [0.1,1,10,100,1000,10000,100000], "labels": false, "tickSize": -8, "title": null}}}},
  {"data": {"name": "T"}, "transform": [{"filter": "datum.p==='M4'"}], "mark": {"type": "point", "opacity": 0},
   "encoding": {"x": {"field": "x", "type": "quantitative", "axis": {"orient": "top", "values": [5,10,15,25,30,35,45,50,55,65,70,75,85,90,95], "labels": false, "tickSize": -3, "title": null}},
                "y": {"field": "y", "type": "quantitative", "axis": {"orient": "right", "values": [0.2,0.3,0.4,0.5,0.6,0.7,0.8,0.9,2,3,4,5,6,7,8,9,20,30,40,50,60,70,80,90,200,300,400,500,600,700,800,900,2000,3000,4000,5000,6000,7000,8000,9000,20000,30000,40000,50000,60000,70000,80000,90000], "labels": false, "tickSize": -4, "title": null}}}}
 ],
 "resolve": {"axis": {"x": "independent", "y": "independent"}}
}
],
"config": {
 "view": {"stroke": "black", "strokeWidth": 2},
 "font": "Liberation Mono",
 "axis": {"labelFont": "Liberation Mono", "titleFont": "Liberation Mono", "labelColor": "black", "titleColor": "black", "titleFontWeight": "normal", "tickColor": "black", "tickWidth": 1.2, "grid": false, "domain": false, "labelOverlap": false, "labelFlush": false, "labelBound": false}
}
}
